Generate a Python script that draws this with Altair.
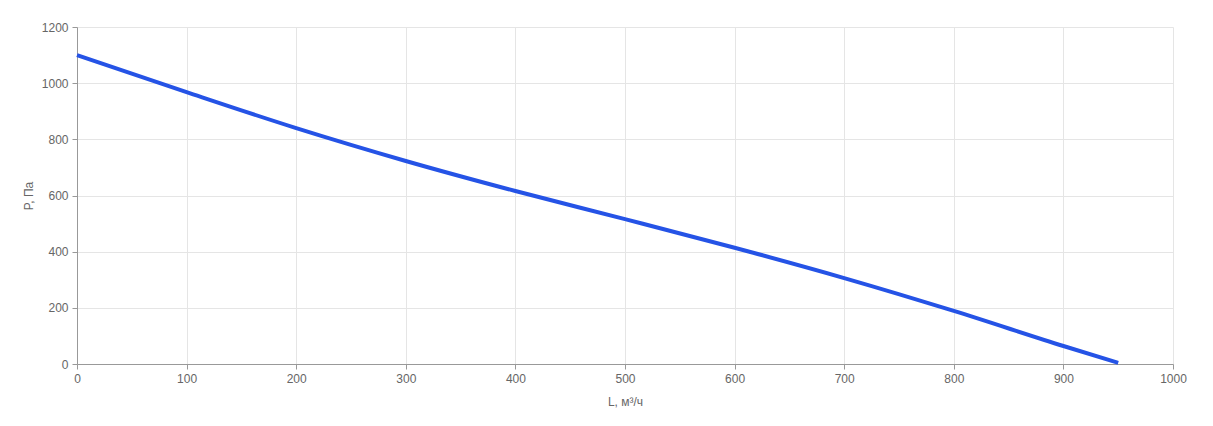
import altair as alt
import pandas as pd

flow = [0, 100, 200, 300, 400, 500, 600, 700, 800, 900, 950]
pressure = [1100, 968, 840, 723, 616, 516, 414, 306, 189, 64, 4]

df = pd.DataFrame({"L": flow, "P": pressure})

chart = alt.Chart(df).mark_line(
    color="#2553E6", strokeWidth=4, interpolate="monotone"
).encode(
    x=alt.X("L:Q", scale=alt.Scale(domain=[0, 1000], nice=False),
            axis=alt.Axis(title="L, м³/ч", values=list(range(0, 1001, 100)), format="d",
                          titlePadding=12, labelFlush=False)),
    y=alt.Y("P:Q", scale=alt.Scale(domain=[0, 1200], nice=False),
            axis=alt.Axis(title="P, Па", values=list(range(0, 1201, 200)), format="d",
                          titlePadding=6, labelFlush=False)),
).properties(
    width=1096, height=337,
    autosize=alt.AutoSizeParams(type="none"),
    padding={"left": 69, "top": 19, "right": 20, "bottom": 55},
).configure_view(stroke=None).configure_axis(
    labelFont="Liberation Sans", titleFont="Liberation Sans",
    labelFontSize=12, titleFontSize=12, labelColor="#666666", titleColor="#666666",
    titleFontWeight="normal", gridColor="#e5e5e5", domainColor="#999999",
    tickColor="#999999", tickSize=5, labelPadding=4,
)

chart.save("out.html", embed_options={"renderer": "svg", "actions": False})
